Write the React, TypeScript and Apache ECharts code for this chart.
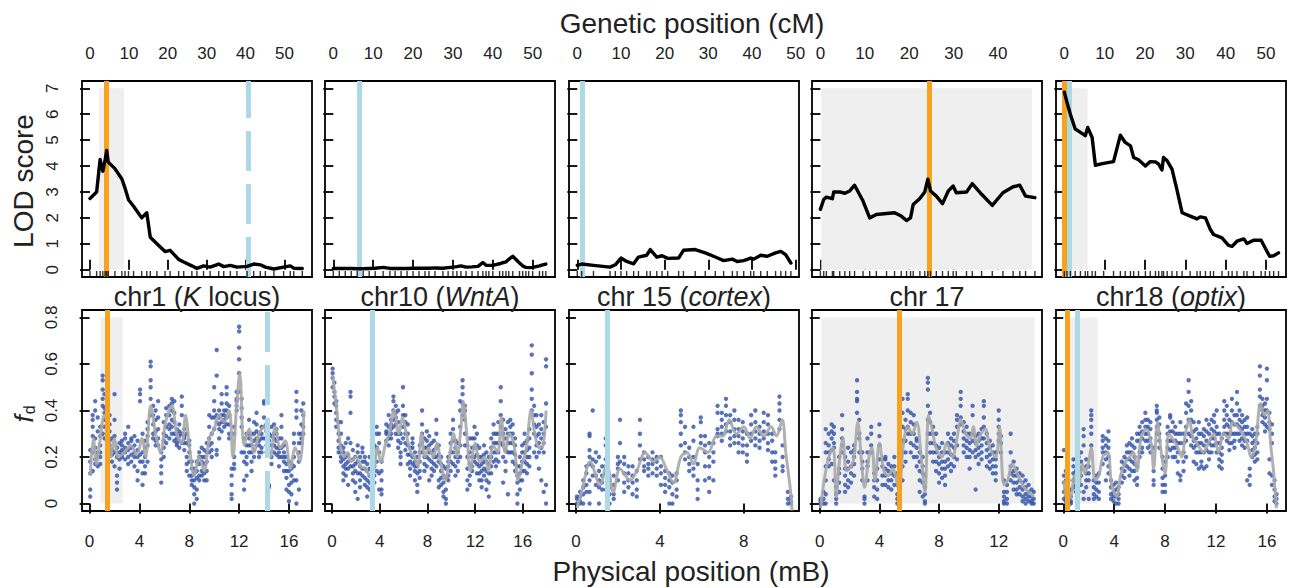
import React, { useEffect, useRef } from "react";
import * as echarts from "echarts";

// ---------------- DATA ----------------
const panelTitles = [
  "{n|chr1 (}{i|K}{n| locus)}",
  "{n|chr10 (}{i|WntA}{n|)}",
  "{n|chr 15 (}{i|cortex}{n|)}",
  "{n|chr 17}",
  "{n|chr18 (}{i|optix}{n|)}",
];

const cmTicks = [
  [0, 10, 20, 30, 40, 50],
  [0, 10, 20, 30, 40, 50],
  [0, 10, 20, 30, 40, 50],
  [0, 10, 20, 30, 40],
  [0, 10, 20, 30, 40, 50],
];
const mbTicks = [
  [0, 4, 8, 12, 16],
  [0, 4, 8, 12, 16],
  [0, 4, 8],
  [0, 4, 8, 12],
  [0, 4, 8, 12, 16],
];
const lodTicks = [0, 1, 2, 3, 4, 5, 6, 7];
const fdTicks = [0, 0.2, 0.4, 0.6, 0.8];

// LOD profiles [cM, LOD]
const chr1Lod: [number, number][] = [
  [0, 2.75], [1.7, 3.0], [2.6, 4.25], [3.3, 3.8], [3.9, 4.25], [4.3, 4.6], [4.7, 4.15], [6.4, 3.9],
  [8.2, 3.5], [9.0, 3.15], [9.9, 2.7], [11.2, 2.45], [13.3, 2.0], [14.6, 2.2], [15.5, 1.25], [17.2, 1.0],
  [19.3, 0.7], [20.6, 0.75], [22.8, 0.4], [24.1, 0.3], [26.2, 0.15], [27.5, 0.05], [29.2, 0.15], [30.9, 0.1],
  [33.1, 0.22], [34.4, 0.12], [36.1, 0.17], [37.8, 0.1], [40.4, 0.13], [42.1, 0.22], [43.8, 0.19], [45.1, 0.1],
  [47.3, 0.03], [49.8, 0.1], [51.5, 0.15], [52.4, 0.06], [54.6, 0.05],
];
const chr10Lod: [number, number][] = [
  [0, 0.05], [1.5, 0.05], [3, 0.05], [4.5, 0.05], [6, 0.04], [7.5, 0.04], [9, 0.05], [10.5, 0.06],
  [12.5, 0.09], [14.2, 0.05], [15.5, 0.05], [17, 0.05], [18.5, 0.05], [20, 0.06], [21.5, 0.06], [23, 0.06],
  [24, 0.06], [25.5, 0.07], [27.5, 0.06], [28.8, 0.08], [30, 0.1], [31, 0.12], [32, 0.15], [33.3, 0.1],
  [34.8, 0.11], [36.3, 0.13], [37.5, 0.28], [38.3, 0.17], [39, 0.17], [40, 0.17], [41.7, 0.23], [42.5, 0.27],
  [43.3, 0.3], [44, 0.4], [45, 0.52], [46.7, 0.26], [47.5, 0.15], [48.3, 0.09], [49, 0.08], [50, 0.09],
  [51.7, 0.15], [52.5, 0.19], [53.3, 0.22],
];
const chr15Lod: [number, number][] = [
  [0, 0.17], [1, 0.22], [3.7, 0.17], [7.5, 0.1], [8.7, 0.19], [10, 0.45], [11.3, 0.32], [12.9, 0.23],
  [14, 0.49], [15.9, 0.56], [16.7, 0.78], [18.2, 0.49], [19.4, 0.54], [20.7, 0.44], [23.2, 0.45], [24.3, 0.75],
  [27, 0.78], [29.3, 0.65], [31.6, 0.49], [33.5, 0.35], [35.5, 0.41], [36.6, 0.32], [38.1, 0.35], [39.7, 0.45],
  [40.4, 0.41], [42, 0.56], [43.5, 0.52], [45.4, 0.65], [46.6, 0.71], [47.7, 0.58], [48.9, 0.26],
];
const chr17Lod: [number, number][] = [
  [0, 2.33], [0.75, 2.71], [1.35, 2.8], [2.7, 2.74], [3.0, 3.0], [4.35, 3.0], [5.5, 2.95], [6.6, 3.04],
  [7.7, 3.26], [9.6, 2.65], [11.1, 2.0], [12.6, 2.13], [14.9, 2.17], [16.7, 2.2], [18.2, 2.07], [19.4, 1.9],
  [20.3, 2.0], [20.9, 2.52], [22.4, 2.75], [23.5, 3.0], [24.2, 3.49], [24.8, 3.04], [26.1, 2.84], [27.5, 2.55],
  [28.8, 3.04], [29.9, 3.23], [30.6, 2.97], [32.9, 3.0], [34.2, 3.32], [36.3, 2.91], [38.7, 2.48], [41.1, 2.97],
  [43.4, 3.2], [44.9, 3.26], [46.2, 2.84], [48.3, 2.78],
];
const chr18Lod: [number, number][] = [
  [0, 6.85], [0.66, 6.46], [1.5, 6.0], [2.7, 5.43], [4.0, 5.3], [5.2, 5.17], [5.8, 5.49], [6.9, 5.1],
  [7.7, 4.03], [9.75, 4.1], [12.2, 4.17], [13.9, 5.19], [15.1, 4.91], [16.4, 4.78], [17.2, 4.33], [18.4, 4.24],
  [20.1, 4.0], [21.3, 4.17], [22.6, 4.16], [23.4, 4.07], [24.2, 3.85], [24.6, 4.33], [25.5, 4.2], [26.7, 3.88],
  [27.9, 3.1], [29.2, 2.2], [31.2, 2.07], [32.9, 1.96], [33.7, 2.04], [35.0, 2.0], [36.2, 1.55], [37.0, 1.36],
  [39.1, 1.23], [40.7, 0.94], [41.6, 0.9], [42.8, 1.1], [44.5, 1.19], [45.3, 1.01], [46.9, 1.14], [48.8, 1.14],
  [49.8, 0.84], [50.9, 0.52], [51.9, 0.54], [53.1, 0.65],
];

// fd windows grouped by position: [Mb, [fd values]]
const chr1Fd: [number, number[]][] = [
  [0.05, [0.03, 0.06, 0.13, 0.18, 0.23]], [0.25, [0.33, 0.36, 0.38, 0.29, 0.22, 0.14]],
  [0.45, [0.44, 0.4, 0.28, 0.19, 0.17, 0.24]], [0.65, [0.37, 0.31, 0.2, 0.22, 0.16]],
  [0.85, [0.22, 0.25, 0.2, 0.17, 0.29, 0.33]], [1.05, [0.55, 0.53, 0.49, 0.45, 0.42, 0.3]],
  [1.2, [0.39, 0.36, 0.33, 0.47, 0.41, 0.28]], [1.4, [0.4, 0.36, 0.3, 0.26, 0.28]],
  [1.6, [0.34, 0.31, 0.27, 0.25, 0.38, 0.22]], [1.8, [0.23, 0.21, 0.28, 0.18]],
  [2.0, [0.47, 0.36, 0.29, 0.22, 0.16]], [2.2, [0.24, 0.2, 0.09, 0.06, 0.12]],
  [2.4, [0.22, 0.19, 0.26, 0.15]], [2.6, [0.23, 0.25, 0.2, 0.27, 0.21]],
  [2.85, [0.19, 0.22, 0.24, 0.28, 0.3]], [3.1, [0.2, 0.26, 0.23, 0.33, 0.17]],
  [3.35, [0.21, 0.24, 0.27, 0.18, 0.28]], [3.6, [0.25, 0.22, 0.2, 0.29, 0.16]],
  [3.85, [0.2, 0.23, 0.14, 0.1, 0.27]], [4.05, [0.49, 0.47, 0.44, 0.21, 0.18]],
  [4.25, [0.22, 0.18, 0.13, 0.08, 0.3]], [4.45, [0.2, 0.16, 0.13, 0.24, 0.27]],
  [4.65, [0.29, 0.25, 0.18, 0.35, 0.32]], [4.9, [0.61, 0.59, 0.53, 0.5, 0.45, 0.38]],
  [5.1, [0.42, 0.38, 0.34, 0.3, 0.28]], [5.3, [0.36, 0.31, 0.27, 0.4, 0.25]],
  [5.5, [0.32, 0.28, 0.25, 0.37, 0.44]], [5.75, [0.19, 0.16, 0.13, 0.09, 0.22]],
  [5.95, [0.3, 0.27, 0.24, 0.35, 0.2]], [6.15, [0.38, 0.33, 0.29, 0.26, 0.41]],
  [6.4, [0.42, 0.38, 0.32, 0.28, 0.34]], [6.6, [0.45, 0.43, 0.4, 0.36, 0.33, 0.3]],
  [6.8, [0.44, 0.39, 0.35, 0.3, 0.27]], [7.0, [0.3, 0.28, 0.32, 0.26, 0.25]],
  [7.2, [0.34, 0.31, 0.27, 0.24, 0.29]], [7.4, [0.46, 0.42, 0.38, 0.3, 0.26]],
  [7.6, [0.32, 0.29, 0.26, 0.23, 0.28]], [7.8, [0.3, 0.26, 0.2, 0.17, 0.14]],
  [8.0, [0.27, 0.22, 0.18, 0.12, 0.25]], [8.2, [0.15, 0.12, 0.1, 0.08, 0.18]],
  [8.4, [0.1, 0.07, 0.04, 0.0, 0.13, 0.15]], [8.6, [0.14, 0.11, 0.06, 0.02, 0.18]],
  [8.8, [0.22, 0.17, 0.12, 0.1, 0.2]], [9.0, [0.2, 0.14, 0.12, 0.24, 0.18]],
  [9.2, [0.13, 0.1, 0.17, 0.23, 0.2]], [9.4, [0.22, 0.18, 0.14, 0.1, 0.26]],
  [9.6, [0.38, 0.33, 0.28, 0.22, 0.25]], [9.8, [0.37, 0.3, 0.26, 0.23, 0.2]],
  [10.0, [0.5, 0.44, 0.4, 0.37, 0.32]], [10.2, [0.66, 0.55, 0.38, 0.35, 0.23, 0.21]],
  [10.4, [0.4, 0.37, 0.34, 0.32, 0.28]], [10.6, [0.47, 0.43, 0.38, 0.35, 0.31]],
  [10.8, [0.38, 0.35, 0.33, 0.36, 0.4]], [11.0, [0.43, 0.4, 0.37, 0.34, 0.5, 0.47]],
  [11.2, [0.42, 0.38, 0.34, 0.3, 0.28]], [11.4, [0.15, 0.12, 0.08, 0.02, 0.04]],
  [11.6, [0.33, 0.3, 0.2, 0.17, 0.15]], [11.8, [0.45, 0.42, 0.4, 0.44, 0.48]],
  [12.0, [0.76, 0.74, 0.67, 0.62, 0.56, 0.48]], [12.2, [0.45, 0.41, 0.37, 0.33, 0.22]],
  [12.4, [0.28, 0.22, 0.18, 0.1, 0.06]], [12.6, [0.3, 0.25, 0.2, 0.17, 0.12]],
  [12.8, [0.36, 0.3, 0.28, 0.25, 0.22]], [13.0, [0.25, 0.22, 0.18, 0.14, 0.3]],
  [13.2, [0.3, 0.27, 0.23, 0.2, 0.35]], [13.4, [0.34, 0.31, 0.28, 0.25, 0.39]],
  [13.6, [0.3, 0.27, 0.25, 0.22, 0.2]], [13.8, [0.33, 0.3, 0.28, 0.24, 0.22]],
  [14.0, [0.44, 0.43, 0.37, 0.33, 0.28]], [14.2, [0.34, 0.31, 0.28, 0.25, 0.22]],
  [14.4, [0.3, 0.27, 0.22, 0.08, 0.07]], [14.6, [0.33, 0.29, 0.25, 0.2, 0.17]],
  [14.8, [0.28, 0.25, 0.22, 0.3, 0.34]], [15.0, [0.3, 0.27, 0.24, 0.21, 0.32]],
  [15.2, [0.24, 0.22, 0.2, 0.16, 0.28]], [15.4, [0.38, 0.33, 0.28, 0.24, 0.2]],
  [15.6, [0.25, 0.22, 0.18, 0.14, 0.2]], [15.8, [0.2, 0.17, 0.14, 0.11, 0.06]],
  [16.0, [0.18, 0.14, 0.08, 0.05, 0.01]], [16.2, [0.17, 0.12, 0.09, 0.04, 0.15]],
  [16.4, [0.3, 0.26, 0.2, 0.16, 0.1]], [16.6, [0.48, 0.44, 0.4, 0.37, 0.1, 0.0]],
  [16.8, [0.3, 0.26, 0.22, 0.18, 0.06]], [17.0, [0.34, 0.3, 0.28, 0.26, 0.4]],
  [17.15, [0.43, 0.38, 0.33, 0.3]],
];
const chr10Fd: [number, number[]][] = [
  [0.05, [0.58, 0.56, 0.54, 0.5]], [0.2, [0.52, 0.48, 0.46, 0.43]], [0.35, [0.44, 0.42, 0.39, 0.36, 0.33]],
  [0.55, [0.35, 0.3, 0.27, 0.24, 0.22]], [0.75, [0.3, 0.25, 0.22, 0.2, 0.18, 0.35]],
  [0.95, [0.22, 0.19, 0.16, 0.13, 0.1, 0.24]], [1.15, [0.2, 0.17, 0.15, 0.12, 0.26]],
  [1.35, [0.21, 0.18, 0.15, 0.08, 0.28]], [1.55, [0.48, 0.46, 0.39, 0.26, 0.16]],
  [1.75, [0.23, 0.19, 0.16, 0.13, 0.1]], [1.95, [0.2, 0.17, 0.14, 0.09, 0.05]],
  [2.15, [0.25, 0.22, 0.18, 0.13, 0.02]], [2.35, [0.2, 0.16, 0.13, 0.1, 0.07]],
  [2.55, [0.22, 0.18, 0.15, 0.12, 0.24]], [2.75, [0.18, 0.15, 0.11, 0.08, 0.2]],
  [2.95, [0.17, 0.14, 0.1, 0.07, 0.03]], [3.15, [0.2, 0.15, 0.12, 0.09, 0.06]],
  [3.35, [0.14, 0.1, 0.07, 0.04, 0.02]], [3.55, [0.25, 0.2, 0.16, 0.12, 0.09]],
  [3.75, [0.33, 0.3, 0.24, 0.18, 0.14]], [3.95, [0.3, 0.26, 0.22, 0.13, 0.06]],
  [4.15, [0.18, 0.14, 0.1, 0.06, 0.04]], [4.55, [0.34, 0.31, 0.27, 0.3]],
  [4.75, [0.38, 0.33, 0.3, 0.28, 0.25]], [4.95, [0.32, 0.3, 0.28, 0.34, 0.36]],
  [5.15, [0.46, 0.44, 0.4, 0.36, 0.33]], [5.35, [0.42, 0.39, 0.37, 0.34, 0.3]],
  [5.55, [0.4, 0.35, 0.3, 0.27, 0.24]], [5.75, [0.3, 0.26, 0.22, 0.2, 0.17]],
  [5.95, [0.5, 0.42, 0.38, 0.33, 0.28]], [6.15, [0.38, 0.35, 0.3, 0.26, 0.23]],
  [6.35, [0.34, 0.3, 0.25, 0.21, 0.17]], [6.55, [0.24, 0.21, 0.18, 0.15, 0.12]],
  [6.75, [0.28, 0.24, 0.2, 0.17, 0.26]], [6.95, [0.22, 0.18, 0.16, 0.14, 0.1]],
  [7.15, [0.2, 0.16, 0.13, 0.08, 0.05]], [7.35, [0.22, 0.18, 0.14, 0.11, 0.25]],
  [7.55, [0.4, 0.34, 0.3, 0.26, 0.22]], [7.75, [0.28, 0.24, 0.2, 0.17, 0.14]],
  [7.95, [0.31, 0.27, 0.24, 0.2, 0.16]], [8.15, [0.29, 0.25, 0.22, 0.19, 0.1]],
  [8.35, [0.26, 0.22, 0.18, 0.15, 0.12]], [8.55, [0.27, 0.23, 0.2, 0.17, 0.14]],
  [8.75, [0.36, 0.3, 0.24, 0.2, 0.16]], [8.95, [0.25, 0.21, 0.18, 0.1, 0.07]],
  [9.15, [0.2, 0.17, 0.14, 0.11, 0.08]], [9.35, [0.16, 0.12, 0.09, 0.05, 0.03]],
  [9.55, [0.15, 0.11, 0.06, 0.0, 0.02]], [9.75, [0.2, 0.16, 0.12, 0.1, 0.18]],
  [9.95, [0.3, 0.26, 0.22, 0.18, 0.14]], [10.15, [0.36, 0.32, 0.27, 0.22, 0.17]],
  [10.35, [0.27, 0.24, 0.2, 0.16, 0.12]], [10.55, [0.26, 0.22, 0.18, 0.14, 0.2]],
  [10.75, [0.44, 0.4, 0.33, 0.25, 0.2]], [10.95, [0.53, 0.5, 0.47, 0.43, 0.38]],
  [11.15, [0.42, 0.4, 0.36, 0.3, 0.25]], [11.35, [0.25, 0.2, 0.15, 0.1, 0.06]],
  [11.55, [0.28, 0.22, 0.17, 0.12, 0.08]], [11.75, [0.28, 0.24, 0.2, 0.16, 0.14]],
  [11.95, [0.33, 0.28, 0.24, 0.2, 0.18]], [12.15, [0.3, 0.25, 0.21, 0.17, 0.13]],
  [12.35, [0.24, 0.2, 0.16, 0.13, 0.1]], [12.55, [0.2, 0.17, 0.14, 0.1, 0.07]],
  [12.75, [0.25, 0.21, 0.18, 0.15, 0.12]], [12.95, [0.22, 0.18, 0.14, 0.1, 0.06]],
  [13.15, [0.2, 0.17, 0.13, 0.09, 0.03]], [13.35, [0.28, 0.24, 0.2, 0.16, 0.13]],
  [13.55, [0.34, 0.3, 0.26, 0.22, 0.18]], [13.75, [0.3, 0.26, 0.22, 0.19, 0.16]],
  [13.95, [0.35, 0.3, 0.26, 0.22, 0.18]], [14.15, [0.5, 0.44, 0.38, 0.33, 0.26]],
  [14.35, [0.36, 0.3, 0.25, 0.2, 0.09]], [14.55, [0.32, 0.28, 0.23, 0.18, 0.14]],
  [14.75, [0.35, 0.3, 0.26, 0.22, 0.04]], [14.95, [0.36, 0.33, 0.3, 0.26, 0.22]],
  [15.15, [0.34, 0.3, 0.26, 0.22, 0.18]], [15.35, [0.28, 0.25, 0.21, 0.17, 0.14]],
  [15.55, [0.16, 0.12, 0.09, 0.04, 0.0]], [15.75, [0.2, 0.16, 0.13, 0.1, 0.06]],
  [15.95, [0.22, 0.18, 0.14, 0.1, 0.25]], [16.15, [0.3, 0.26, 0.22, 0.18, 0.14]],
  [16.35, [0.27, 0.23, 0.2, 0.17, 0.13]], [16.55, [0.32, 0.28, 0.24, 0.2, 0.16]],
  [16.75, [0.68, 0.64, 0.56, 0.49, 0.45, 0.4]], [16.95, [0.42, 0.38, 0.34, 0.3, 0.22]],
  [17.15, [0.38, 0.33, 0.29, 0.25, 0.2]], [17.35, [0.34, 0.3, 0.26, 0.22, 0.15]],
  [17.55, [0.38, 0.32, 0.28, 0.24, 0.1]], [17.75, [0.35, 0.3, 0.26, 0.22, 0.05]],
  [17.95, [0.62, 0.59, 0.43, 0.33, 0.08, 0.0]],
];
const chr15Fd: [number, number[]][] = [
  [0.05, [0.02, 0.0, 0.03]], [0.2, [0.05, 0.03, 0.01, 0.0]], [0.35, [0.1, 0.07, 0.04, 0.0]],
  [0.5, [0.13, 0.16, 0.08, 0.05]], [0.65, [0.3, 0.29, 0.23, 0.2, 0.17, 0.1, 0.05, 0.0]],
  [0.8, [0.4, 0.19, 0.16, 0.12]], [0.95, [0.22, 0.18, 0.12, 0.08]], [1.1, [0.2, 0.14, 0.1, 0.07, 0.0]],
  [1.25, [0.16, 0.12, 0.09, 0.06]], [1.42, [0.28, 0.25, 0.19, 0.16, 0.13, 0.06]],
  [1.6, [0.1, 0.07, 0.04, 0.0]], [1.8, [0.12, 0.08, 0.04, 0.02]], [2.0, [0.2, 0.17, 0.15, 0.1]],
  [2.1, [0.36, 0.26, 0.18]], [2.3, [0.2, 0.17, 0.13, 0.09, 0.05]], [2.5, [0.16, 0.13, 0.1, 0.07]],
  [2.7, [0.16, 0.12, 0.09, 0.04]], [2.9, [0.14, 0.1, 0.06, 0.03]], [3.05, [0.36, 0.3, 0.25, 0.19]],
  [3.25, [0.22, 0.19, 0.16, 0.14]], [3.45, [0.2, 0.17, 0.15, 0.12]], [3.65, [0.22, 0.19, 0.17, 0.13]],
  [3.85, [0.2, 0.18, 0.15, 0.12]], [4.05, [0.2, 0.16, 0.13, 0.08]], [4.25, [0.14, 0.11, 0.08, 0.05]],
  [4.45, [0.13, 0.1, 0.07, 0.0]], [4.6, [0.12, 0.09, 0.04, 0.0]], [4.8, [0.13, 0.1, 0.06, 0.03]],
  [5.0, [0.4, 0.38, 0.35, 0.3, 0.25]], [5.2, [0.26, 0.22, 0.19, 0.33]], [5.4, [0.24, 0.2, 0.17, 0.14]],
  [5.6, [0.33, 0.27, 0.2, 0.15, 0.12]], [5.8, [0.1, 0.06, 0.02, 0.17]], [5.95, [0.37, 0.35, 0.29, 0.26]],
  [6.15, [0.29, 0.25, 0.22, 0.16, 0.1]], [6.35, [0.2, 0.16, 0.11, 0.05, 0.26]],
  [6.55, [0.26, 0.22, 0.18, 0.1]], [6.75, [0.42, 0.39, 0.32, 0.3, 0.29]],
  [6.95, [0.36, 0.33, 0.3, 0.27, 0.39]], [7.15, [0.45, 0.42, 0.38, 0.34, 0.31]],
  [7.35, [0.38, 0.35, 0.31, 0.28, 0.25]], [7.55, [0.4, 0.36, 0.32, 0.29, 0.26]],
  [7.75, [0.36, 0.32, 0.29, 0.26, 0.22]], [7.95, [0.35, 0.31, 0.28, 0.25, 0.22]],
  [8.15, [0.25, 0.21, 0.18, 0.3]], [8.35, [0.38, 0.34, 0.3, 0.27]], [8.55, [0.4, 0.35, 0.31, 0.28, 0.25]],
  [8.75, [0.33, 0.3, 0.27, 0.24]], [8.95, [0.39, 0.35, 0.31, 0.28]], [9.15, [0.38, 0.34, 0.3, 0.26, 0.23]],
  [9.35, [0.3, 0.27, 0.22, 0.18]], [9.5, [0.22, 0.18, 0.15, 0.12]], [9.7, [0.46, 0.43, 0.4, 0.36, 0.32]],
  [9.85, [0.25, 0.2, 0.16, 0.14]], [10.1, [0.05, 0.02, 0.0]], [10.25, [0.03, 0.01, 0.0]],
];
const chr17Fd: [number, number[]][] = [
  [0.05, [0.0, 0.01, 0.02]], [0.25, [0.0, 0.02, 0.05]], [0.4, [0.32, 0.26, 0.22, 0.16, 0.1, 0.04, 0.0]],
  [0.6, [0.3, 0.25, 0.22, 0.19, 0.16]], [0.8, [0.34, 0.31, 0.28, 0.23, 0.17]],
  [0.95, [0.33, 0.3, 0.26, 0.24, 0.1]], [1.1, [0.07, 0.04, 0.02, 0.0]], [1.3, [0.2, 0.15, 0.13, 0.09, 0.05]],
  [1.5, [0.38, 0.32, 0.28, 0.25, 0.22]], [1.7, [0.2, 0.15, 0.12, 0.08, 0.05]],
  [1.9, [0.24, 0.18, 0.15, 0.1, 0.07]], [2.1, [0.22, 0.16, 0.13, 0.09]], [2.3, [0.25, 0.23, 0.2, 0.17, 0.12]],
  [2.5, [0.53, 0.48, 0.45, 0.44, 0.39]], [2.65, [0.3, 0.28, 0.36, 0.22]], [2.85, [0.22, 0.18, 0.15, 0.1]],
  [3.0, [0.02, 0.0, 0.03]], [3.2, [0.28, 0.22, 0.18, 0.16, 0.1]], [3.45, [0.33, 0.3, 0.25, 0.22]],
  [3.65, [0.13, 0.1, 0.07, 0.03]], [3.85, [0.15, 0.1, 0.06, 0.02]], [4.0, [0.34, 0.29, 0.25, 0.19]],
  [4.2, [0.19, 0.16, 0.12, 0.08]], [4.4, [0.19, 0.15, 0.12, 0.08, 0.2]], [4.6, [0.17, 0.14, 0.1, 0.07]],
  [4.8, [0.16, 0.13, 0.1, 0.06]], [5.0, [0.2, 0.16, 0.12, 0.08]], [5.2, [0.13, 0.08, 0.04, 0.02, 0.0]],
  [5.35, [0.1, 0.06, 0.02, 0.0]], [5.55, [0.45, 0.39, 0.33, 0.27, 0.22, 0.16, 0.1]],
  [5.75, [0.36, 0.32, 0.27, 0.22, 0.18]], [5.9, [0.47, 0.45, 0.4, 0.33, 0.3]],
  [6.1, [0.39, 0.35, 0.3, 0.26, 0.22]], [6.3, [0.38, 0.34, 0.3, 0.25, 0.2]],
  [6.5, [0.28, 0.24, 0.2, 0.16, 0.27]], [6.7, [0.22, 0.18, 0.14, 0.1, 0.05]],
  [6.9, [0.2, 0.16, 0.13, 0.09, 0.03]], [7.05, [0.12, 0.07, 0.04, 0.01, 0.0]],
  [7.25, [0.54, 0.52, 0.49, 0.42, 0.36, 0.3]], [7.4, [0.39, 0.35, 0.3, 0.26, 0.22]],
  [7.6, [0.33, 0.3, 0.26, 0.22, 0.18]], [7.8, [0.3, 0.25, 0.22, 0.18, 0.14]],
  [8.0, [0.24, 0.2, 0.17, 0.13, 0.09]], [8.2, [0.26, 0.22, 0.18, 0.15, 0.11]],
  [8.4, [0.22, 0.18, 0.15, 0.12, 0.08]], [8.6, [0.3, 0.26, 0.22, 0.19, 0.16]],
  [8.8, [0.28, 0.25, 0.21, 0.17, 0.14]], [9.0, [0.3, 0.27, 0.24, 0.2, 0.16]],
  [9.2, [0.38, 0.36, 0.33, 0.25, 0.19]], [9.45, [0.48, 0.45, 0.42, 0.37, 0.34]],
  [9.65, [0.35, 0.31, 0.28, 0.25, 0.22]], [9.85, [0.33, 0.3, 0.27, 0.24, 0.2]],
  [10.05, [0.3, 0.26, 0.23, 0.2, 0.15]], [10.25, [0.42, 0.38, 0.3, 0.27, 0.22]],
  [10.45, [0.29, 0.26, 0.23, 0.2, 0.06]], [10.65, [0.3, 0.27, 0.24, 0.21, 0.17]],
  [10.85, [0.32, 0.28, 0.25, 0.22, 0.19]], [11.0, [0.44, 0.42, 0.37, 0.33, 0.28]],
  [11.2, [0.3, 0.26, 0.23, 0.2, 0.16]], [11.4, [0.27, 0.24, 0.21, 0.18, 0.15]],
  [11.6, [0.25, 0.22, 0.19, 0.16, 0.13]], [11.8, [0.22, 0.19, 0.16, 0.13, 0.1]],
  [12.0, [0.4, 0.36, 0.33, 0.3, 0.27]], [12.15, [0.29, 0.26, 0.22]], [12.35, [0.05, 0.03, 0.01, 0.0, 0.1]],
  [12.55, [0.08, 0.05, 0.02, 0.0]], [12.8, [0.3, 0.22, 0.16, 0.13, 0.1]],
  [13.0, [0.18, 0.14, 0.12, 0.09, 0.06]], [13.2, [0.15, 0.12, 0.09, 0.06, 0.04]],
  [13.4, [0.13, 0.1, 0.07, 0.04]], [13.6, [0.12, 0.09, 0.06, 0.03, 0.01]],
  [13.8, [0.1, 0.07, 0.04, 0.02, 0.0]], [14.0, [0.08, 0.05, 0.03, 0.01]],
  [14.2, [0.06, 0.03, 0.01, 0.0]], [14.35, [0.05, 0.02, 0.0]],
];
const chr18Fd: [number, number[]][] = [
  [0.05, [0.23, 0.12, 0.09, 0.05, 0.02]], [0.2, [0.14, 0.1, 0.06, 0.03, 0.01]],
  [0.4, [0.05, 0.03, 0.01, 0.0, 0.1]], [0.6, [0.06, 0.03, 0.01, 0.0]], [0.8, [0.19, 0.16, 0.13, 0.1, 0.07]],
  [1.0, [0.14, 0.11, 0.08, 0.05, 0.19]], [1.2, [0.2, 0.16, 0.12, 0.09, 0.05]],
  [1.4, [0.18, 0.15, 0.12, 0.08, 0.22]], [1.6, [0.32, 0.29, 0.25, 0.05, 0.02]],
  [1.8, [0.19, 0.16, 0.13, 0.1, 0.07]], [2.0, [0.16, 0.13, 0.1, 0.02]],
  [2.2, [0.4, 0.38, 0.36, 0.33, 0.3, 0.25]], [2.4, [0.1, 0.07, 0.04, 0.02]],
  [2.6, [0.12, 0.09, 0.06, 0.03]], [2.8, [0.13, 0.09, 0.05, 0.02]], [3.1, [0.29, 0.27, 0.24, 0.22, 0.17]],
  [3.35, [0.28, 0.25, 0.22, 0.19, 0.1]], [3.55, [0.31, 0.27, 0.24, 0.2, 0.16, 0.13]],
  [3.75, [0.1, 0.07, 0.04, 0.02]], [3.95, [0.08, 0.05, 0.03, 0.01]], [4.15, [0.09, 0.06, 0.03, 0.0]],
  [4.35, [0.07, 0.04, 0.02, 0.0]], [4.6, [0.18, 0.15, 0.12, 0.09]], [4.8, [0.2, 0.17, 0.14, 0.11]],
  [5.0, [0.25, 0.22, 0.19, 0.16]], [5.2, [0.26, 0.22, 0.19, 0.15, 0.12]],
  [5.4, [0.28, 0.25, 0.22, 0.18, 0.14]], [5.6, [0.24, 0.2, 0.17, 0.14, 0.1]],
  [5.8, [0.3, 0.27, 0.16, 0.11, 0.08]], [6.0, [0.33, 0.3, 0.27, 0.22, 0.2]],
  [6.2, [0.35, 0.31, 0.28, 0.24, 0.22]], [6.45, [0.39, 0.36, 0.33, 0.3, 0.27]],
  [6.65, [0.36, 0.33, 0.3, 0.27, 0.24]], [6.85, [0.35, 0.32, 0.28, 0.25, 0.22]],
  [7.1, [0.14, 0.1, 0.08, 0.24]], [7.35, [0.42, 0.4, 0.39, 0.36, 0.33, 0.3]],
  [7.55, [0.37, 0.34, 0.3, 0.27, 0.24]], [7.8, [0.15, 0.11, 0.08, 0.05, 0.2]],
  [8.0, [0.12, 0.08, 0.05, 0.18]], [8.2, [0.33, 0.3, 0.27, 0.24, 0.2]],
  [8.4, [0.38, 0.37, 0.31, 0.27, 0.23]], [8.6, [0.35, 0.31, 0.27, 0.24, 0.2]],
  [8.8, [0.33, 0.3, 0.27, 0.24, 0.2]], [9.0, [0.3, 0.26, 0.22, 0.18, 0.13]],
  [9.2, [0.35, 0.3, 0.26, 0.1, 0.12]], [9.45, [0.3, 0.26, 0.22, 0.18, 0.14]],
  [9.65, [0.43, 0.39, 0.33, 0.27, 0.2]], [9.85, [0.53, 0.48, 0.42, 0.36, 0.3]],
  [10.05, [0.44, 0.4, 0.36, 0.29, 0.25]], [10.25, [0.35, 0.31, 0.27, 0.24, 0.18]],
  [10.45, [0.32, 0.28, 0.25, 0.22, 0.17]], [10.65, [0.35, 0.3, 0.26, 0.22, 0.15]],
  [10.85, [0.3, 0.26, 0.22, 0.18, 0.16]], [11.05, [0.32, 0.29, 0.25, 0.22, 0.15]],
  [11.25, [0.36, 0.31, 0.27, 0.23, 0.16]], [11.45, [0.34, 0.3, 0.26, 0.22, 0.19]],
  [11.65, [0.36, 0.32, 0.28, 0.25, 0.22]], [11.85, [0.38, 0.35, 0.31, 0.28, 0.25]],
  [12.05, [0.4, 0.33, 0.3, 0.26, 0.22]], [12.25, [0.3, 0.26, 0.22, 0.19, 0.16]],
  [12.45, [0.28, 0.24, 0.21, 0.18, 0.15]], [12.65, [0.44, 0.4, 0.36, 0.33, 0.3]],
  [12.85, [0.42, 0.38, 0.34, 0.3, 0.27]], [13.05, [0.36, 0.33, 0.3, 0.26, 0.23]],
  [13.25, [0.45, 0.4, 0.35, 0.3, 0.26]], [13.45, [0.38, 0.34, 0.3, 0.27, 0.24]],
  [13.65, [0.48, 0.43, 0.38, 0.34, 0.3]], [13.85, [0.4, 0.36, 0.33, 0.3, 0.27]],
  [14.05, [0.38, 0.35, 0.32, 0.28, 0.25]], [14.25, [0.36, 0.33, 0.3, 0.27, 0.24]],
  [14.45, [0.37, 0.33, 0.3, 0.27, 0.1]], [14.65, [0.15, 0.12, 0.08, 0.3]],
  [14.85, [0.32, 0.29, 0.26, 0.23, 0.2]], [15.05, [0.3, 0.27, 0.24, 0.21, 0.18]],
  [15.25, [0.33, 0.3, 0.26, 0.22, 0.19]], [15.45, [0.59, 0.55, 0.49, 0.46, 0.42]],
  [15.65, [0.45, 0.42, 0.4, 0.38, 0.35]], [15.85, [0.43, 0.4, 0.37, 0.34, 0.31]],
  [16.0, [0.58, 0.53, 0.45, 0.4, 0.33]], [16.2, [0.39, 0.35, 0.32, 0.19, 0.13]],
  [16.4, [0.34, 0.3, 0.26, 0.12, 0.08]], [16.6, [0.1, 0.06, 0.03, 0.01]], [16.75, [0.04, 0.02, 0.0]],
];

// smoothed fd curves [Mb, fd]
const chr1Smooth: [number, number][] = [
  [0.05, 0.12], [0.3, 0.28], [0.55, 0.17], [0.8, 0.26], [1.2, 0.38], [1.45, 0.34], [1.7, 0.2], [2.0, 0.28],
  [2.3, 0.2], [2.8, 0.22], [3.3, 0.25], [3.8, 0.21], [4.2, 0.28], [4.5, 0.2], [4.9, 0.42], [5.3, 0.3],
  [5.7, 0.22], [6.1, 0.35], [6.6, 0.42], [7.0, 0.3], [7.4, 0.26], [7.7, 0.38], [8.0, 0.25], [8.4, 0.12],
  [8.8, 0.2], [9.2, 0.14], [9.6, 0.28], [10.0, 0.32], [10.4, 0.38], [10.8, 0.35], [11.2, 0.4], [11.5, 0.2],
  [11.8, 0.42], [12.05, 0.56], [12.4, 0.25], [12.8, 0.32], [13.2, 0.22], [13.6, 0.3], [14.0, 0.33], [14.5, 0.2],
  [14.9, 0.33], [15.3, 0.24], [15.7, 0.27], [16.1, 0.15], [16.5, 0.24], [16.9, 0.18], [17.2, 0.4],
];
const chr10Smooth: [number, number][] = [
  [0.05, 0.55], [0.4, 0.4], [0.7, 0.25], [1.0, 0.2], [1.3, 0.22], [1.6, 0.18], [2.0, 0.2], [2.4, 0.16],
  [2.8, 0.15], [3.2, 0.12], [3.5, 0.14], [3.8, 0.24], [4.1, 0.18], [4.5, 0.26], [4.8, 0.3], [5.2, 0.4],
  [5.6, 0.3], [5.9, 0.37], [6.3, 0.28], [6.6, 0.22], [6.9, 0.2], [7.2, 0.16], [7.5, 0.3], [7.8, 0.2],
  [8.1, 0.24], [8.5, 0.2], [8.8, 0.26], [9.1, 0.18], [9.5, 0.1], [9.8, 0.18], [10.2, 0.3], [10.5, 0.2],
  [10.8, 0.32], [11.0, 0.44], [11.3, 0.3], [11.6, 0.14], [12.0, 0.26], [12.4, 0.18], [12.8, 0.2], [13.1, 0.14],
  [13.5, 0.25], [13.9, 0.22], [14.2, 0.37], [14.5, 0.22], [14.9, 0.3], [15.3, 0.24], [15.6, 0.1], [15.9, 0.16],
  [16.3, 0.24], [16.7, 0.4], [17.0, 0.3], [17.4, 0.24], [17.7, 0.25], [17.95, 0.4],
];
const chr15Smooth: [number, number][] = [
  [0.05, -0.02], [0.3, 0.06], [0.68, 0.18], [1.15, 0.08], [1.47, 0.17], [1.78, 0.05], [2.1, 0.15], [2.58, 0.1],
  [2.9, 0.14], [3.3, 0.22], [3.7, 0.18], [4.0, 0.2], [4.3, 0.15], [4.65, 0.09], [5.0, 0.2], [5.3, 0.22],
  [5.6, 0.17], [5.9, 0.24], [6.3, 0.22], [6.7, 0.29], [7.0, 0.29], [7.3, 0.36], [7.65, 0.3], [8.0, 0.33],
  [8.3, 0.28], [8.6, 0.33], [8.95, 0.29], [9.3, 0.33], [9.55, 0.29], [9.83, 0.36], [10.0, 0.22], [10.23, 0.05],
  [10.3, -0.03],
];
const chr17Smooth: [number, number][] = [
  [0.05, -0.02], [0.3, 0.1], [0.6, 0.2], [0.9, 0.24], [1.1, 0.03], [1.3, 0.17], [1.55, 0.28], [1.8, 0.14],
  [2.1, 0.16], [2.3, 0.2], [2.55, 0.35], [2.8, 0.18], [3.0, 0.07], [3.3, 0.2], [3.5, 0.24], [3.7, 0.1],
  [4.0, 0.26], [4.3, 0.14], [4.6, 0.12], [4.9, 0.15], [5.3, 0.06], [5.6, 0.25], [5.9, 0.33], [6.2, 0.3],
  [6.5, 0.35], [6.8, 0.2], [7.05, 0.05], [7.3, 0.38], [7.5, 0.33], [7.8, 0.24], [8.2, 0.2], [8.5, 0.26],
  [8.9, 0.2], [9.2, 0.28], [9.45, 0.36], [9.8, 0.3], [10.1, 0.28], [10.3, 0.33], [10.5, 0.25], [10.8, 0.3],
  [11.1, 0.32], [11.4, 0.24], [11.8, 0.2], [12.05, 0.33], [12.35, 0.08], [12.6, 0.1], [12.9, 0.17],
  [13.3, 0.12], [13.7, 0.07], [14.0, 0.05], [14.35, 0.03],
];
const chr18Smooth: [number, number][] = [
  [0.05, 0.1], [0.3, 0.02], [0.6, 0.03], [0.9, 0.12], [1.2, 0.08], [1.5, 0.17], [1.7, 0.13], [2.0, 0.18],
  [2.2, 0.24], [2.5, 0.1], [2.8, 0.12], [3.1, 0.2], [3.5, 0.22], [3.8, 0.08], [4.2, 0.03], [4.5, 0.12],
  [4.9, 0.18], [5.2, 0.2], [5.5, 0.22], [5.8, 0.14], [6.1, 0.28], [6.5, 0.32], [6.9, 0.26], [7.1, 0.15],
  [7.4, 0.35], [7.7, 0.22], [8.0, 0.13], [8.3, 0.3], [8.7, 0.27], [9.0, 0.24], [9.3, 0.2], [9.6, 0.3],
  [9.9, 0.36], [10.2, 0.28], [10.6, 0.25], [11.0, 0.22], [11.4, 0.26], [11.8, 0.3], [12.2, 0.22], [12.6, 0.3],
  [13.0, 0.28], [13.3, 0.35], [13.7, 0.33], [14.1, 0.3], [14.5, 0.25], [14.75, 0.2], [15.1, 0.25], [15.5, 0.43],
  [15.8, 0.38], [16.05, 0.4], [16.3, 0.25], [16.5, 0.15], [16.75, -0.02],
];

// QTL peaks, candidate genes and intervals
const qtlPeakCM: (number | null)[] = [4.3, null, null, 24.4, 0.05];
const candidateCM: (number | null)[] = [40.8, 6.4, 1.15, null, 1.3];
const intervalCM: ([number, number] | null)[] = [[2.3, 8.8], null, null, [0.2, 47.7], [0, 5.8]];
const qtlPeakMb: (number | null)[] = [1.45, null, null, 5.35, 0.34];
const candidateMb: (number | null)[] = [14.29, 3.38, 1.48, null, 1.07];
const intervalMb: ([number, number] | null)[] = [[0.86, 2.66], null, null, [0.1, 14.4], [0.3, 2.7]];
const candidateDashed = [true, false, false, false, false];

const lodData = [chr1Lod, chr10Lod, chr15Lod, chr17Lod, chr18Lod];
const fdData = [chr1Fd, chr10Fd, chr15Fd, chr17Fd, chr18Fd];
const smoothData = [chr1Smooth, chr10Smooth, chr15Smooth, chr17Smooth, chr18Smooth];

// ---------------- LAYOUT / STYLE ----------------
const FONT = '"Liberation Sans", Arial, Helvetica, sans-serif';
const INK = "#222";
const ORANGE = "#F7A21E";
const LIGHTBLUE = "#ADD8E6";
const SHADE = "#EFEFEF";
const DOT = "#3050A8";
const SMOOTH = "#A8A8A8";
const gridLefts = [82, 325, 569, 812, 1056];
const GRID_W = 230;
const cmRange: [number, number][] = [[-2.06, 57.1], [-2.08, 55.6], [-1.9, 50.76], [-1.89, 49.9], [-2.06, 54.96]];
const mbRange: [number, number][] = [[-0.61, 17.85], [-0.59, 18.7], [-0.33, 10.63], [-0.52, 14.9], [-0.57, 17.5]];
const LOD_MIN = -0.28, LOD_MAX = 7.28, RUG_Y = -0.165;
const FD_MIN = -0.032, FD_MAX = 0.832;
const TICK_FS = 17;
const TITLE_FS = 28;
const PANEL_FS = 27;

function buildOption() {
  const xAxis: any[] = [];
  const yAxis: any[] = [];
  const series: any[] = [];
  const graphic: any[] = [];
  const grids: any[] = [];

  const tickStyle = { color: "#000", width: 1.8 };
  const labelStyle = { fontFamily: FONT, fontSize: TICK_FS, color: INK };

  for (let i = 0; i < 5; i++) {
    grids.push({ left: gridLefts[i], top: 81, width: GRID_W, height: 196, show: true, borderColor: "#000", borderWidth: 1.8, backgroundColor: "transparent" });
    xAxis.push({
      gridIndex: i, type: "value", position: "top", min: cmRange[i][0], max: cmRange[i][1],
      axisLine: { show: false }, splitLine: { show: false },
      axisTick: { show: true, inside: false, length: 10, lineStyle: tickStyle, customValues: cmTicks[i] },
      axisLabel: { show: true, customValues: cmTicks[i], margin: 19, ...labelStyle },
    });
    yAxis.push({
      gridIndex: i, type: "value", min: LOD_MIN, max: LOD_MAX,
      axisLine: { show: false }, splitLine: { show: false },
      axisTick: { show: true, inside: false, length: 10, lineStyle: tickStyle, customValues: lodTicks },
      axisLabel: { show: i === 0, customValues: lodTicks, rotate: 90, margin: 21, ...labelStyle },
    });
  }
  for (let i = 0; i < 5; i++) {
    const g = 5 + i;
    grids.push({ left: gridLefts[i], top: 310, width: GRID_W, height: 201, show: true, borderColor: "#000", borderWidth: 1.8, backgroundColor: "transparent" });
    xAxis.push({
      gridIndex: g, type: "value", position: "bottom", min: mbRange[i][0], max: mbRange[i][1],
      axisLine: { show: false }, splitLine: { show: false },
      axisTick: { show: true, inside: false, length: 10, lineStyle: tickStyle, customValues: mbTicks[i] },
      axisLabel: { show: true, customValues: mbTicks[i], margin: 22, ...labelStyle },
    });
    yAxis.push({
      gridIndex: g, type: "value", min: FD_MIN, max: FD_MAX,
      axisLine: { show: false }, splitLine: { show: false },
      axisTick: { show: true, inside: false, length: 10, lineStyle: tickStyle, customValues: fdTicks },
      axisLabel: { show: i === 0, customValues: fdTicks, rotate: 90, margin: 22, ...labelStyle },
    });
  }

  const vline = (x: number, color: string, dashed: boolean) => ({
    xAxis: x,
    lineStyle: { color, width: 5, type: dashed ? [40, 13] : "solid", opacity: 1, cap: "butt" },
  });

  for (let i = 0; i < 5; i++) {
    // ----- top row -----
    const ti = i;
    if (intervalCM[i]) {
      const [a, b] = intervalCM[i] as [number, number];
      series.push({
        type: "line", xAxisIndex: ti, yAxisIndex: ti, data: [], z: 1, silent: true,
        markArea: { z: 1, silent: true, itemStyle: { color: SHADE }, data: [[{ xAxis: a, yAxis: 0 }, { xAxis: b, yAxis: 7 }]] },
      });
    }
    const topLines: any[] = [];
    if (candidateCM[i] !== null) topLines.push(vline(candidateCM[i] as number, LIGHTBLUE, candidateDashed[i]));
    if (qtlPeakCM[i] !== null) topLines.push(vline(qtlPeakCM[i] as number, ORANGE, false));
    if (topLines.length) {
      series.push({
        type: "line", xAxisIndex: ti, yAxisIndex: ti, data: [], z: 2, silent: true,
        markLine: { z: 2, silent: true, symbol: ["none", "none"], label: { show: false }, emphasis: { disabled: true }, data: topLines },
      });
    }
    series.push({
      type: "scatter", xAxisIndex: ti, yAxisIndex: ti, z: 3, silent: true,
      data: lodData[i].map(([x]) => [x, RUG_Y]),
      symbol: "rect", symbolSize: [1.4, 6], itemStyle: { color: "#000" },
    });
    series.push({
      type: "line", xAxisIndex: ti, yAxisIndex: ti, z: 6, silent: true,
      data: lodData[i], showSymbol: false, symbol: "none",
      lineStyle: { color: "#000", width: 3.4, join: "round", cap: "round" },
    });

    // ----- bottom row -----
    const bi = 5 + i;
    if (intervalMb[i]) {
      const [a, b] = intervalMb[i] as [number, number];
      series.push({
        type: "line", xAxisIndex: bi, yAxisIndex: bi, data: [], z: 1, silent: true,
        markArea: { z: 1, silent: true, itemStyle: { color: SHADE }, data: [[{ xAxis: a, yAxis: 0 }, { xAxis: b, yAxis: 0.8 }]] },
      });
    }
    series.push({
      type: "scatter", xAxisIndex: bi, yAxisIndex: bi, z: 2, silent: true,
      data: fdData[i].flatMap(([x, ys]) => ys.map((y) => [x, y])),
      symbol: "circle", symbolSize: 4.4, itemStyle: { color: DOT },
    });
    series.push({
      type: "line", xAxisIndex: bi, yAxisIndex: bi, z: 3, silent: true,
      data: smoothData[i], showSymbol: false, symbol: "none", smooth: 0.35,
      lineStyle: { color: SMOOTH, width: 3, opacity: 0.9 },
    });
    const botLines: any[] = [];
    if (candidateMb[i] !== null) botLines.push(vline(candidateMb[i] as number, LIGHTBLUE, candidateDashed[i]));
    if (qtlPeakMb[i] !== null) botLines.push(vline(qtlPeakMb[i] as number, ORANGE, false));
    if (botLines.length) {
      series.push({
        type: "line", xAxisIndex: bi, yAxisIndex: bi, data: [], z: 5, silent: true,
        markLine: { z: 5, silent: true, symbol: ["none", "none"], label: { show: false }, emphasis: { disabled: true }, data: botLines },
      });
    }

    // panel title
    graphic.push({
      type: "text", x: gridLefts[i] + GRID_W / 2, y: 297, silent: true,
      style: {
        text: panelTitles[i], fill: INK, font: `${PANEL_FS}px ${FONT}`,
        align: "center", verticalAlign: "middle", textAlign: "center", textVerticalAlign: "middle",
        rich: {
          n: { fontSize: PANEL_FS, fontFamily: FONT, fill: INK, color: INK },
          i: { fontSize: PANEL_FS, fontFamily: FONT, fontStyle: "italic", fill: INK, color: INK },
        },
      },
    });
  }

  graphic.push({
    type: "text", x: 692, y: 23, silent: true,
    style: { text: "Genetic position (cM)", fill: INK, font: `${TITLE_FS}px ${FONT}`, align: "center", verticalAlign: "middle", textAlign: "center", textVerticalAlign: "middle" },
  });
  graphic.push({
    type: "text", x: 691, y: 571, silent: true,
    style: { text: "Physical position (mB)", fill: INK, font: `${TITLE_FS}px ${FONT}`, align: "center", verticalAlign: "middle", textAlign: "center", textVerticalAlign: "middle" },
  });
  graphic.push({
    type: "text", x: 23, y: 181, rotation: Math.PI / 2, silent: true,
    style: { text: "LOD score", fill: INK, font: `${TITLE_FS}px ${FONT}`, align: "center", verticalAlign: "middle", textAlign: "center", textVerticalAlign: "middle" },
  });
  graphic.push({
    type: "text", x: 24, y: 414, rotation: Math.PI / 2, silent: true,
    style: {
      text: "{f|f}{d|d}", fill: INK, font: `26px ${FONT}`, align: "center", verticalAlign: "middle", textAlign: "center", textVerticalAlign: "middle",
      rich: {
        f: { fontSize: 26, fontFamily: FONT, fontStyle: "italic", fill: INK, color: INK },
        d: { fontSize: 16, fontFamily: FONT, fill: INK, color: INK, verticalAlign: "bottom", padding: [0, 0, 0, 1] },
      },
    },
  });

  return {
    animation: false,
    backgroundColor: "#fff",
    grid: grids,
    xAxis,
    yAxis,
    series,
    graphic,
  };
}

export default function App() {
  const ref = useRef<HTMLDivElement>(null);
  useEffect(() => {
    if (!ref.current) return;
    const chart = echarts.init(ref.current, undefined, { renderer: "svg" });
    chart.setOption(buildOption() as any);
    return () => chart.dispose();
  }, []);
  return <div ref={ref} style={{ position: "absolute", left: 0, top: 0, width: 1291, height: 588 }} />;
}
